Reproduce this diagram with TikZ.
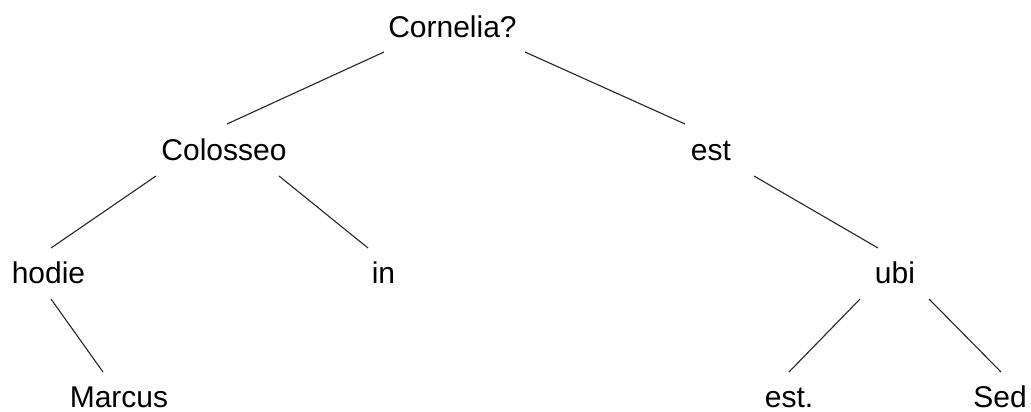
\documentclass[tikz,border=0pt]{standalone}
\usepackage{fontspec}
\setmainfont{Liberation Sans}
\begin{document}
\begin{tikzpicture}[x=1pt,y=-1pt,
  word/.style={anchor=base,inner sep=0pt,font=\fontsize{30}{36}\selectfont},
  edge/.style={line width=1.1pt,draw=black!85}]
\useasboundingbox[fill=white] (0,0) rectangle (1031,412);
\node[word] (corn) at (452.5,38) {Cornelia?};
\node[word] (col) at (224,160) {Colosseo};
\node[word] (est) at (711,160) {est};
\node[word] (hodie) at (48.5,283) {hodie};
\node[word] (in) at (383.5,283) {in};
\node[word] (ubi) at (895,283) {ubi};
\node[word] (marcus) at (119,407) {Marcus};
\node[word] (estp) at (789,407) {est.};
\node[word] (sed) at (1000,407) {Sed};
\draw[edge] ([shift={(-68.5,14)}]corn.base) -- ([shift={(3,-36)}]col.base);
\draw[edge] ([shift={(72.5,14)}]corn.base) -- ([shift={(-26,-36)}]est.base);
\draw[edge] ([shift={(-68,16)}]col.base) -- ([shift={(2.5,-35)}]hodie.base);
\draw[edge] ([shift={(55,16)}]col.base) -- ([shift={(-15.5,-35)}]in.base);
\draw[edge] ([shift={(43,16)}]est.base) -- ([shift={(-17,-35)}]ubi.base);
\draw[edge] ([shift={(2.5,16)}]hodie.base) -- ([shift={(-16,-35)}]marcus.base);
\draw[edge] ([shift={(-35,16)}]ubi.base) -- ([shift={(0,-35)}]estp.base);
\draw[edge] ([shift={(34,16)}]ubi.base) -- ([shift={(1,-35)}]sed.base);
\end{tikzpicture}
\end{document}
